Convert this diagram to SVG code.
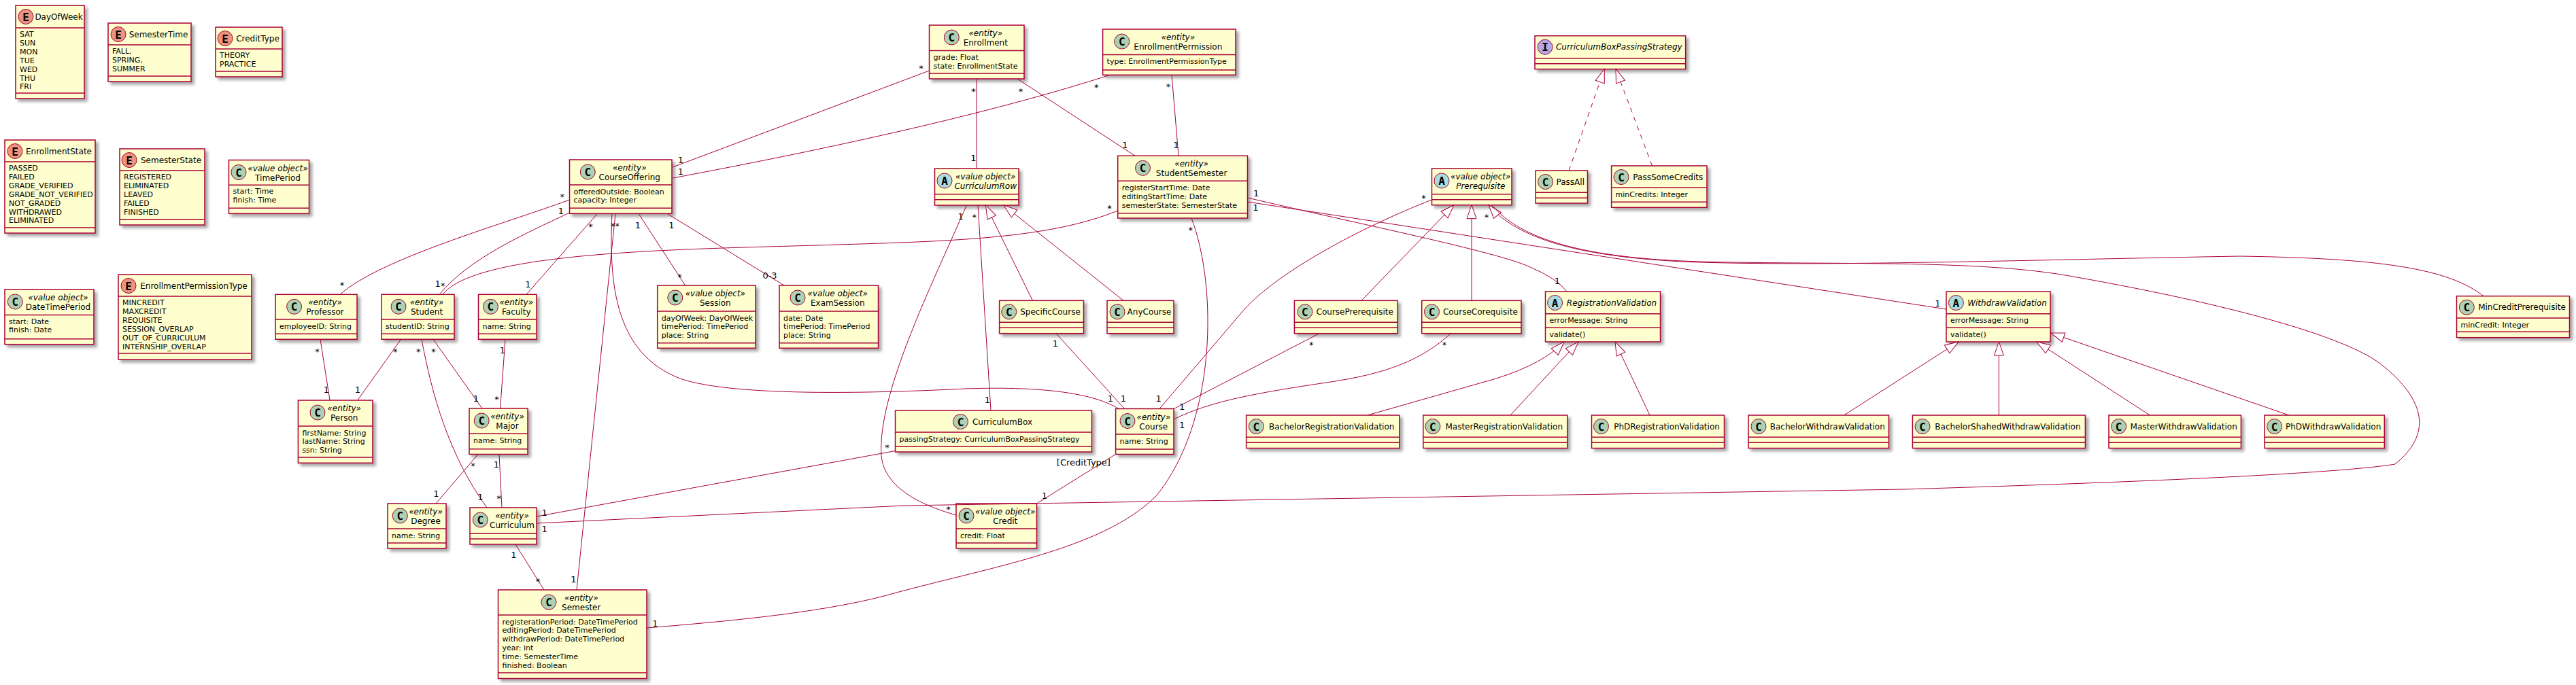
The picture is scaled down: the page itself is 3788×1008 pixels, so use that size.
<svg xmlns="http://www.w3.org/2000/svg" width="3788" height="1008" viewBox="0 0 3788 1008">
<defs>
<style>
.box{fill:#FEFECE;stroke:#A80036;stroke-width:1.5;filter:url(#sh)}
.sep{stroke:#A80036;stroke-width:1.5}
.spot{stroke:#A80036;stroke-width:1}
.sc{fill:#ADD1B2}.sa{fill:#A9DCDF}.si{fill:#B4A7E5}.se{fill:#EB937F}
text{font-family:"DejaVu Sans",sans-serif;fill:#000000}
.lt{font-family:"DejaVu Sans Mono",monospace;font-size:16px;font-weight:bold;text-anchor:middle}
.nm{font-size:12px;text-anchor:middle}
.it{font-style:italic}
.at{font-size:11px}
.ml{font-size:13px;text-anchor:middle}
.ln{fill:none;stroke:#A80036;stroke-width:1}
.g{marker-end:url(#tri)}
.d{stroke-dasharray:7,7}
</style>
<filter id="sh" x="-10%" y="-10%" width="130%" height="150%">
<feGaussianBlur in="SourceAlpha" stdDeviation="2"/>
<feOffset dx="4" dy="4"/>
<feComponentTransfer><feFuncA type="linear" slope="0.35"/></feComponentTransfer>
<feMerge><feMergeNode/><feMergeNode in="SourceGraphic"/></feMerge>
</filter>
<marker id="tri" markerUnits="userSpaceOnUse" markerWidth="24" markerHeight="18" viewBox="-22 -9 24 18" refX="0" refY="0" orient="auto">
<path d="M0,0 L-20,-7 L-20,7 Z" fill="#FFFFFF" stroke="#A80036" stroke-width="1"/>
</marker>
</defs>
<rect x="0" y="0" width="3788" height="1008" fill="#FFFFFF"/>

<g id="DayOfWeek"><rect class="box" x="23" y="8" width="101" height="137"/><line class="sep" x1="23" y1="41" x2="124" y2="41"/><line class="sep" x1="23" y1="137" x2="124" y2="137"/><circle class="spot se" cx="38" cy="24.5" r="11"/><text class="lt" x="38" y="30.5">E</text><text class="nm" x="86.5" y="28.5">DayOfWeek</text><text class="at"><tspan x="29" y="54">SAT</tspan><tspan x="29" y="66.9">SUN</tspan><tspan x="29" y="79.8">MON</tspan><tspan x="29" y="92.7">TUE</tspan><tspan x="29" y="105.6">WED</tspan><tspan x="29" y="118.5">THU</tspan><tspan x="29" y="131.4">FRI</tspan></text></g>

<g id="SemesterTime"><rect class="box" x="159" y="34" width="122" height="86"/><line class="sep" x1="159" y1="66" x2="281" y2="66"/><line class="sep" x1="159" y1="112" x2="281" y2="112"/><circle class="spot se" cx="174" cy="50.5" r="11"/><text class="lt" x="174" y="56.5">E</text><text class="nm" x="233" y="54.5">SemesterTime</text><text class="at"><tspan x="165" y="79">FALL,</tspan><tspan x="165" y="91.9">SPRING,</tspan><tspan x="165" y="104.8">SUMMER</tspan></text></g>

<g id="CreditType"><rect class="box" x="317" y="40" width="98" height="73"/><line class="sep" x1="317" y1="72" x2="415" y2="72"/><line class="sep" x1="317" y1="105" x2="415" y2="105"/><circle class="spot se" cx="331" cy="56.5" r="11"/><text class="lt" x="331" y="62.5">E</text><text class="nm" x="379" y="60.5">CreditType</text><text class="at"><tspan x="323" y="85">THEORY</tspan><tspan x="323" y="97.9">PRACTICE</tspan></text></g>

<g id="EnrollmentState"><rect class="box" x="7" y="206" width="133" height="137"/><line class="sep" x1="7" y1="238" x2="140" y2="238"/><line class="sep" x1="7" y1="335" x2="140" y2="335"/><circle class="spot se" cx="22" cy="222.5" r="11"/><text class="lt" x="22" y="228.5">E</text><text class="nm" x="86.5" y="226.5">EnrollmentState</text><text class="at"><tspan x="13" y="251">PASSED</tspan><tspan x="13" y="263.9">FAILED</tspan><tspan x="13" y="276.8">GRADE_VERIFIED</tspan><tspan x="13" y="289.7">GRADE_NOT_VERIFIED</tspan><tspan x="13" y="302.6">NOT_GRADED</tspan><tspan x="13" y="315.5">WITHDRAWED</tspan><tspan x="13" y="328.4">ELIMINATED</tspan></text></g>

<g id="SemesterState"><rect class="box" x="176" y="219" width="125" height="112"/><line class="sep" x1="176" y1="251" x2="301" y2="251"/><line class="sep" x1="176" y1="323" x2="301" y2="323"/><circle class="spot se" cx="190" cy="235.5" r="11"/><text class="lt" x="190" y="241.5">E</text><text class="nm" x="251.5" y="239.5">SemesterState</text><text class="at"><tspan x="182" y="264">REGISTERED</tspan><tspan x="182" y="276.9">ELIMINATED</tspan><tspan x="182" y="289.8">LEAVED</tspan><tspan x="182" y="302.7">FAILED</tspan><tspan x="182" y="315.6">FINISHED</tspan></text></g>

<g id="TimePeriod"><rect class="box" x="336.5" y="235.5" width="118" height="78.8"/><line class="sep" x1="336.5" y1="272.3" x2="454.5" y2="272.3"/><line class="sep" x1="336.5" y1="306.3" x2="454.5" y2="306.3"/><circle class="spot sc" cx="351" cy="253.5" r="11"/><text class="lt" x="351" y="259.5">C</text><text class="nm it" x="408.5" y="251.5">«value object»</text><text class="nm" x="408.5" y="265.5">TimePeriod</text><text class="at"><tspan x="342.5" y="285.3">start: Time</tspan><tspan x="342.5" y="298.2">finish: Time</tspan></text></g>

<g id="DateTimePeriod"><rect class="box" x="7" y="426" width="131" height="80.7"/><line class="sep" x1="7" y1="463.5" x2="138" y2="463.5"/><line class="sep" x1="7" y1="498.7" x2="138" y2="498.7"/><circle class="spot sc" cx="22.3" cy="444" r="11"/><text class="lt" x="22.3" y="450">C</text><text class="nm it" x="85.5" y="442">«value object»</text><text class="nm" x="85.5" y="456">DateTimePeriod</text><text class="at"><tspan x="13" y="476.5">start: Date</tspan><tspan x="13" y="489.4">finish: Date</tspan></text></g>

<g id="EnrollmentPermissionType"><rect class="box" x="174" y="404" width="196" height="125"/><line class="sep" x1="174" y1="436" x2="370" y2="436"/><line class="sep" x1="174" y1="520" x2="370" y2="520"/><circle class="spot se" cx="189" cy="420.5" r="11"/><text class="lt" x="189" y="426.5">E</text><text class="nm" x="285" y="424.5">EnrollmentPermissionType</text><text class="at"><tspan x="180" y="449">MINCREDIT</tspan><tspan x="180" y="461.9">MAXCREDIT</tspan><tspan x="180" y="474.8">REQUISITE</tspan><tspan x="180" y="487.7">SESSION_OVERLAP</tspan><tspan x="180" y="500.6">OUT_OF_CURRICULUM</tspan><tspan x="180" y="513.5">INTERNSHIP_OVERLAP</tspan></text></g>

<g id="Enrollment"><rect class="box" x="1366.5" y="37" width="139.5" height="79"/><line class="sep" x1="1366.5" y1="74.5" x2="1506" y2="74.5"/><line class="sep" x1="1366.5" y1="108" x2="1506" y2="108"/><circle class="spot sc" cx="1399.3" cy="55" r="11"/><text class="lt" x="1399.3" y="61">C</text><text class="nm it" x="1449.25" y="53">«entity»</text><text class="nm" x="1449.25" y="67">Enrollment</text><text class="at"><tspan x="1372.5" y="88">grade: Float</tspan><tspan x="1372.5" y="100.9">state: EnrollmentState</tspan></text></g>

<g id="EnrollmentPermission"><rect class="box" x="1621.6" y="43" width="195.4" height="67.3"/><line class="sep" x1="1621.6" y1="80.5" x2="1817" y2="80.5"/><line class="sep" x1="1621.6" y1="103" x2="1817" y2="103"/><circle class="spot sc" cx="1649.7" cy="61" r="11"/><text class="lt" x="1649.7" y="67">C</text><text class="nm it" x="1732.3" y="59">«entity»</text><text class="nm" x="1732.3" y="73">EnrollmentPermission</text><text class="at"><tspan x="1627.6" y="94">type: EnrollmentPermissionType</tspan></text></g>

<g id="CourseOffering"><rect class="box" x="837.5" y="235" width="150.5" height="79.3"/><line class="sep" x1="837.5" y1="272" x2="988" y2="272"/><line class="sep" x1="837.5" y1="306.3" x2="988" y2="306.3"/><circle class="spot sc" cx="864.3" cy="253" r="11"/><text class="lt" x="864.3" y="259">C</text><text class="nm it" x="925.75" y="251">«entity»</text><text class="nm" x="925.75" y="265">CourseOffering</text><text class="at"><tspan x="843.5" y="285.5">offeredOutside: Boolean</tspan><tspan x="843.5" y="298.4">capacity: Integer</tspan></text></g>

<g id="CurriculumRow"><rect class="box" x="1374.5" y="248" width="123.5" height="54"/><line class="sep" x1="1374.5" y1="285.7" x2="1498" y2="285.7"/><line class="sep" x1="1374.5" y1="293.7" x2="1498" y2="293.7"/><circle class="spot sa" cx="1389" cy="266" r="11"/><text class="lt" x="1389" y="272">A</text><text class="nm it" x="1449.25" y="264">«value object»</text><text class="nm it" x="1449.25" y="278">CurriculumRow</text></g>

<g id="StudentSemester"><rect class="box" x="1643.7" y="229.3" width="190.8" height="91.7"/><line class="sep" x1="1643.7" y1="266.3" x2="1834.5" y2="266.3"/><line class="sep" x1="1643.7" y1="313.7" x2="1834.5" y2="313.7"/><circle class="spot sc" cx="1680.5" cy="247.3" r="11"/><text class="lt" x="1680.5" y="253.3">C</text><text class="nm it" x="1752.1" y="245.3">«entity»</text><text class="nm" x="1752.1" y="259.3">StudentSemester</text><text class="at"><tspan x="1649.7" y="279.8">registerStartTime: Date</tspan><tspan x="1649.7" y="292.7">editingStartTime: Date</tspan><tspan x="1649.7" y="305.6">semesterState: SemesterState</tspan></text></g>

<g id="Session"><rect class="box" x="966.7" y="420" width="144.3" height="92.3"/><line class="sep" x1="966.7" y1="458" x2="1111" y2="458"/><line class="sep" x1="966.7" y1="504.7" x2="1111" y2="504.7"/><circle class="spot sc" cx="992.8" cy="438" r="11"/><text class="lt" x="992.8" y="444">C</text><text class="nm it" x="1051.85" y="436">«value object»</text><text class="nm" x="1051.85" y="450">Session</text><text class="at"><tspan x="972.7" y="471.5">dayOfWeek: DayOfWeek</tspan><tspan x="972.7" y="484.4">timePeriod: TimePeriod</tspan><tspan x="972.7" y="497.3">place: String</tspan></text></g>

<g id="ExamSession"><rect class="box" x="1146" y="420" width="145.5" height="92.3"/><line class="sep" x1="1146" y1="458" x2="1291.5" y2="458"/><line class="sep" x1="1146" y1="504.7" x2="1291.5" y2="504.7"/><circle class="spot sc" cx="1173" cy="438" r="11"/><text class="lt" x="1173" y="444">C</text><text class="nm it" x="1231.75" y="436">«value object»</text><text class="nm" x="1231.75" y="450">ExamSession</text><text class="at"><tspan x="1152" y="471.5">date: Date</tspan><tspan x="1152" y="484.4">timePeriod: TimePeriod</tspan><tspan x="1152" y="497.3">place: String</tspan></text></g>

<g id="SpecificCourse"><rect class="box" x="1469.6" y="442.3" width="123.9" height="48.4"/><line class="sep" x1="1469.6" y1="474.3" x2="1593.5" y2="474.3"/><line class="sep" x1="1469.6" y1="482.3" x2="1593.5" y2="482.3"/><circle class="spot sc" cx="1483.7" cy="458.8" r="11"/><text class="lt" x="1483.7" y="464.8">C</text><text class="nm" x="1544.5" y="462.8">SpecificCourse</text></g>

<g id="AnyCourse"><rect class="box" x="1628" y="442.3" width="98" height="48.4"/><line class="sep" x1="1628" y1="474.3" x2="1726" y2="474.3"/><line class="sep" x1="1628" y1="482.3" x2="1726" y2="482.3"/><circle class="spot sc" cx="1643" cy="458.8" r="11"/><text class="lt" x="1643" y="464.8">C</text><text class="nm" x="1690" y="462.8">AnyCourse</text></g>

<g id="Professor"><rect class="box" x="405" y="433.3" width="120" height="66"/><line class="sep" x1="405" y1="470" x2="525" y2="470"/><line class="sep" x1="405" y1="491.3" x2="525" y2="491.3"/><circle class="spot sc" cx="432.6" cy="451.3" r="11"/><text class="lt" x="432.6" y="457.3">C</text><text class="nm it" x="478" y="449.3">«entity»</text><text class="nm" x="478" y="463.3">Professor</text><text class="at" x="411" y="483.5">employeeID: String</text></g>

<g id="Student"><rect class="box" x="561" y="433.3" width="107" height="66"/><line class="sep" x1="561" y1="470" x2="668" y2="470"/><line class="sep" x1="561" y1="491.3" x2="668" y2="491.3"/><circle class="spot sc" cx="586" cy="451.3" r="11"/><text class="lt" x="586" y="457.3">C</text><text class="nm it" x="627.5" y="449.3">«entity»</text><text class="nm" x="627.5" y="463.3">Student</text><text class="at" x="567" y="483.5">studentID: String</text></g>

<g id="Faculty"><rect class="box" x="703.5" y="433.3" width="85.5" height="66"/><line class="sep" x1="703.5" y1="470" x2="789" y2="470"/><line class="sep" x1="703.5" y1="491.3" x2="789" y2="491.3"/><circle class="spot sc" cx="721.4" cy="451.3" r="11"/><text class="lt" x="721.4" y="457.3">C</text><text class="nm it" x="759.25" y="449.3">«entity»</text><text class="nm" x="759.25" y="463.3">Faculty</text><text class="at" x="709.5" y="483.5">name: String</text></g>

<g id="Person"><rect class="box" x="438.4" y="589" width="109.6" height="92.3"/><line class="sep" x1="438.4" y1="627" x2="548" y2="627"/><line class="sep" x1="438.4" y1="673" x2="548" y2="673"/><circle class="spot sc" cx="467" cy="607" r="11"/><text class="lt" x="467" y="613">C</text><text class="nm it" x="506.2" y="605">«entity»</text><text class="nm" x="506.2" y="619">Person</text><text class="at"><tspan x="444.4" y="640.5">firstName: String</tspan><tspan x="444.4" y="653.4">lastName: String</tspan><tspan x="444.4" y="666.3">ssn: String</tspan></text></g>

<g id="Major"><rect class="box" x="690" y="601" width="86" height="67.5"/><line class="sep" x1="690" y1="638.2" x2="776" y2="638.2"/><line class="sep" x1="690" y1="660.8" x2="776" y2="660.8"/><circle class="spot sc" cx="708.2" cy="619" r="11"/><text class="lt" x="708.2" y="625">C</text><text class="nm it" x="746" y="617">«entity»</text><text class="nm" x="746" y="631">Major</text><text class="at" x="696" y="651.7">name: String</text></g>

<g id="Degree"><rect class="box" x="570" y="741" width="86" height="66"/><line class="sep" x1="570" y1="778" x2="656" y2="778"/><line class="sep" x1="570" y1="799" x2="656" y2="799"/><circle class="spot sc" cx="588.3" cy="759" r="11"/><text class="lt" x="588.3" y="765">C</text><text class="nm it" x="626" y="757">«entity»</text><text class="nm" x="626" y="771">Degree</text><text class="at" x="576" y="791.5">name: String</text></g>

<g id="Curriculum"><rect class="box" x="691" y="747" width="98" height="54"/><line class="sep" x1="691" y1="785" x2="789" y2="785"/><line class="sep" x1="691" y1="793" x2="789" y2="793"/><circle class="spot sc" cx="706.3" cy="765" r="11"/><text class="lt" x="706.3" y="771">C</text><text class="nm it" x="753" y="763">«entity»</text><text class="nm" x="753" y="777">Curriculum</text></g>

<g id="Semester"><rect class="box" x="732.5" y="868" width="218.5" height="130.5"/><line class="sep" x1="732.5" y1="905" x2="951" y2="905"/><line class="sep" x1="732.5" y1="990" x2="951" y2="990"/><circle class="spot sc" cx="807" cy="886" r="11"/><text class="lt" x="807" y="892">C</text><text class="nm it" x="854.75" y="884">«entity»</text><text class="nm" x="854.75" y="898">Semester</text><text class="at"><tspan x="738.5" y="918.5">registerationPeriod: DateTimePeriod</tspan><tspan x="738.5" y="931.4">editingPeriod: DateTimePeriod</tspan><tspan x="738.5" y="944.3">withdrawPeriod: DateTimePeriod</tspan><tspan x="738.5" y="957.2">year: int</tspan><tspan x="738.5" y="970.1">time: SemesterTime</tspan><tspan x="738.5" y="983">finished: Boolean</tspan></text></g>

<g id="CurriculumBox"><rect class="box" x="1316.5" y="604" width="289" height="61"/><line class="sep" x1="1316.5" y1="636" x2="1605.5" y2="636"/><line class="sep" x1="1316.5" y1="657" x2="1605.5" y2="657"/><circle class="spot sc" cx="1412.5" cy="620.5" r="11"/><text class="lt" x="1412.5" y="626.5">C</text><text class="nm" x="1474" y="624.5">CurriculumBox</text><text class="at" x="1322.5" y="649.5">passingStrategy: CurriculumBoxPassingStrategy</text></g>

<g id="Course"><rect class="box" x="1640.6" y="601.5" width="85.4" height="67"/><line class="sep" x1="1640.6" y1="639" x2="1726" y2="639"/><line class="sep" x1="1640.6" y1="661" x2="1726" y2="661"/><circle class="spot sc" cx="1658" cy="619.5" r="11"/><text class="lt" x="1658" y="625.5">C</text><text class="nm it" x="1696.3" y="617.5">«entity»</text><text class="nm" x="1696.3" y="631.5">Course</text><text class="at" x="1646.6" y="652.5">name: String</text></g>

<g id="Credit"><rect class="box" x="1406" y="741" width="118.5" height="66"/><line class="sep" x1="1406" y1="778" x2="1524.5" y2="778"/><line class="sep" x1="1406" y1="799" x2="1524.5" y2="799"/><circle class="spot sc" cx="1421" cy="759" r="11"/><text class="lt" x="1421" y="765">C</text><text class="nm it" x="1478.25" y="757">«value object»</text><text class="nm" x="1478.25" y="771">Credit</text><text class="at" x="1412" y="791.5">credit: Float</text></g>

<g id="CurriculumBoxPassingStrategy"><rect class="box" x="2257" y="52.7" width="221.6" height="49"/><line class="sep" x1="2257" y1="85.7" x2="2478.6" y2="85.7"/><line class="sep" x1="2257" y1="93.7" x2="2478.6" y2="93.7"/><circle class="spot si" cx="2272" cy="69.2" r="11"/><text class="lt" x="2272" y="75.2">I</text><text class="nm it" x="2380.8" y="73.2">CurriculumBoxPassingStrategy</text></g>

<g id="PassAll"><rect class="box" x="2258" y="251" width="76.5" height="48"/><line class="sep" x1="2258" y1="283.3" x2="2334.5" y2="283.3"/><line class="sep" x1="2258" y1="291.3" x2="2334.5" y2="291.3"/><circle class="spot sc" cx="2272.6" cy="267.5" r="11"/><text class="lt" x="2272.6" y="273.5">C</text><text class="nm" x="2309.25" y="271.5">PassAll</text></g>

<g id="PassSomeCredits"><rect class="box" x="2369.6" y="244" width="140.4" height="61.3"/><line class="sep" x1="2369.6" y1="276.3" x2="2510" y2="276.3"/><line class="sep" x1="2369.6" y1="297.3" x2="2510" y2="297.3"/><circle class="spot sc" cx="2384" cy="260.5" r="11"/><text class="lt" x="2384" y="266.5">C</text><text class="nm" x="2452.8" y="264.5">PassSomeCredits</text><text class="at" x="2375.6" y="289.8">minCredits: Integer</text></g>

<g id="Prerequisite"><rect class="box" x="2105.5" y="248" width="117.5" height="53.7"/><line class="sep" x1="2105.5" y1="285.7" x2="2223" y2="285.7"/><line class="sep" x1="2105.5" y1="293.7" x2="2223" y2="293.7"/><circle class="spot sa" cx="2120" cy="266" r="11"/><text class="lt" x="2120" y="272">A</text><text class="nm it" x="2177.25" y="264">«value object»</text><text class="nm it" x="2177.25" y="278">Prerequisite</text></g>

<g id="CoursePrerequisite"><rect class="box" x="1903.4" y="442.3" width="151.6" height="48.4"/><line class="sep" x1="1903.4" y1="474.3" x2="2055" y2="474.3"/><line class="sep" x1="1903.4" y1="482.3" x2="2055" y2="482.3"/><circle class="spot sc" cx="1918.9" cy="458.8" r="11"/><text class="lt" x="1918.9" y="464.8">C</text><text class="nm" x="1992.2" y="462.8">CoursePrerequisite</text></g>

<g id="CourseCorequisite"><rect class="box" x="2090.7" y="442.3" width="146.3" height="48.4"/><line class="sep" x1="2090.7" y1="474.3" x2="2237" y2="474.3"/><line class="sep" x1="2090.7" y1="482.3" x2="2237" y2="482.3"/><circle class="spot sc" cx="2105.5" cy="458.8" r="11"/><text class="lt" x="2105.5" y="464.8">C</text><text class="nm" x="2176.85" y="462.8">CourseCorequisite</text></g>

<g id="RegistrationValidation"><rect class="box" x="2272.5" y="429" width="169" height="74"/><line class="sep" x1="2272.5" y1="461.7" x2="2441.5" y2="461.7"/><line class="sep" x1="2272.5" y1="482.3" x2="2441.5" y2="482.3"/><circle class="spot sa" cx="2286.6" cy="445.5" r="11"/><text class="lt" x="2286.6" y="451.5">A</text><text class="nm it" x="2370" y="449.5">RegistrationValidation</text><text class="at" x="2278.5" y="475.2">errorMessage: String</text><text class="at" x="2278.5" y="495.8">validate()</text></g>

<g id="WithdrawValidation"><rect class="box" x="2862" y="429" width="153" height="74"/><line class="sep" x1="2862" y1="461.7" x2="3015" y2="461.7"/><line class="sep" x1="2862" y1="482.3" x2="3015" y2="482.3"/><circle class="spot sa" cx="2876.4" cy="445.5" r="11"/><text class="lt" x="2876.4" y="451.5">A</text><text class="nm it" x="2951.5" y="449.5">WithdrawValidation</text><text class="at" x="2868" y="475.2">errorMessage: String</text><text class="at" x="2868" y="495.8">validate()</text></g>

<g id="MinCreditPrerequisite"><rect class="box" x="3612.5" y="435.7" width="166" height="61"/><line class="sep" x1="3612.5" y1="468" x2="3778.5" y2="468"/><line class="sep" x1="3612.5" y1="488.3" x2="3778.5" y2="488.3"/><circle class="spot sc" cx="3627.3" cy="452.2" r="11"/><text class="lt" x="3627.3" y="458.2">C</text><text class="nm" x="3708.5" y="456.2">MinCreditPrerequisite</text><text class="at" x="3618.5" y="481.5">minCredit: Integer</text></g>

<g id="BachelorRegistrationValidation"><rect class="box" x="1832.6" y="611" width="225.2" height="48.5"/><line class="sep" x1="1832.6" y1="643.3" x2="2057.8" y2="643.3"/><line class="sep" x1="1832.6" y1="651.3" x2="2057.8" y2="651.3"/><circle class="spot sc" cx="1847.3" cy="627.5" r="11"/><text class="lt" x="1847.3" y="633.5">C</text><text class="nm" x="1958.2" y="631.5">BachelorRegistrationValidation</text></g>

<g id="MasterRegistrationValidation"><rect class="box" x="2092.8" y="611" width="211.9" height="48.5"/><line class="sep" x1="2092.8" y1="643.3" x2="2304.7" y2="643.3"/><line class="sep" x1="2092.8" y1="651.3" x2="2304.7" y2="651.3"/><circle class="spot sc" cx="2106.9" cy="627.5" r="11"/><text class="lt" x="2106.9" y="633.5">C</text><text class="nm" x="2211.75" y="631.5">MasterRegistrationValidation</text></g>

<g id="PhDRegistrationValidation"><rect class="box" x="2340.5" y="611" width="195" height="48.5"/><line class="sep" x1="2340.5" y1="643.3" x2="2535.5" y2="643.3"/><line class="sep" x1="2340.5" y1="651.3" x2="2535.5" y2="651.3"/><circle class="spot sc" cx="2354.5" cy="627.5" r="11"/><text class="lt" x="2354.5" y="633.5">C</text><text class="nm" x="2451" y="631.5">PhDRegistrationValidation</text></g>

<g id="BachelorWithdrawValidation"><rect class="box" x="2571" y="611" width="206.5" height="48.5"/><line class="sep" x1="2571" y1="643.3" x2="2777.5" y2="643.3"/><line class="sep" x1="2571" y1="651.3" x2="2777.5" y2="651.3"/><circle class="spot sc" cx="2586" cy="627.5" r="11"/><text class="lt" x="2586" y="633.5">C</text><text class="nm" x="2687.25" y="631.5">BachelorWithdrawValidation</text></g>

<g id="BachelorShahedWithdrawValidation"><rect class="box" x="2812.4" y="611" width="254" height="48.5"/><line class="sep" x1="2812.4" y1="643.3" x2="3066.4" y2="643.3"/><line class="sep" x1="2812.4" y1="651.3" x2="3066.4" y2="651.3"/><circle class="spot sc" cx="2827" cy="627.5" r="11"/><text class="lt" x="2827" y="633.5">C</text><text class="nm" x="2952.4" y="631.5">BachelorShahedWithdrawValidation</text></g>

<g id="MasterWithdrawValidation"><rect class="box" x="3101" y="611" width="194.4" height="48.5"/><line class="sep" x1="3101" y1="643.3" x2="3295.4" y2="643.3"/><line class="sep" x1="3101" y1="651.3" x2="3295.4" y2="651.3"/><circle class="spot sc" cx="3115.6" cy="627.5" r="11"/><text class="lt" x="3115.6" y="633.5">C</text><text class="nm" x="3211.2" y="631.5">MasterWithdrawValidation</text></g>

<g id="PhDWithdrawValidation"><rect class="box" x="3330" y="611" width="176.3" height="48.5"/><line class="sep" x1="3330" y1="643.3" x2="3506.3" y2="643.3"/><line class="sep" x1="3330" y1="651.3" x2="3506.3" y2="651.3"/><circle class="spot sc" cx="3344.6" cy="627.5" r="11"/><text class="lt" x="3344.6" y="633.5">C</text><text class="nm" x="3431.15" y="631.5">PhDWithdrawValidation</text></g>

<g id="connectors">
<g class="ln">
<path d="M1366.5,104 L989,246"/>
<path d="M1630,111 Q1400,185 989.5,262"/>
<path d="M1436,116 L1436,248"/>
<path d="M1496,116 L1669,229.3"/>
<path d="M1723,110.3 L1733,229.3"/>
<path d="M837.5,294 C740,330 560,380 500,433.3"/>
<path d="M837.5,313 C770,345 690,380 646,433.3"/>
<path d="M1643.7,310 C1540,352 1400,355 1200,361 C1000,367 700,370 651,433.3"/>
<path d="M878.5,314.3 L774,433.3"/>
<path d="M905,314.3 L848,868"/>
<path d="M900,314.3 C895,420 905,520 1000,557 C1080,585 1300,578 1420,572 C1540,568 1610,580 1645,601.5"/>
<path d="M939,314.3 L1007.6,420"/>
<path d="M981,314.3 L1153,420"/>
<path d="M1438,302 L1457,604"/>
<path d="M1421.4,302 C1370,420 1290,580 1296,670 C1300,720 1360,745 1406,758"/>
<path class="g" d="M1518.5,442.3 L1449.5,302"/>
<path class="g" d="M1652,442.3 L1476,302"/>
<path d="M1553,490.7 L1653.6,601.5"/>
<path d="M1752,321 C1790,420 1790,620 1700,730 C1620,810 1450,835 1300,877 C1200,903 1060,915 951,924"/>
<path d="M1834.5,291 C2000,330 2200,370 2250,393 Q2290,410 2304,429"/>
<path d="M1834.5,297 L2862,455"/>
<path d="M2105.5,294 C2000,335 1880,400 1830,455 L1705,601.5"/>
<path class="g" d="M2002,442.3 L2138,301.7"/>
<path class="g" d="M2164,442.3 L2164,301.7"/>
<path class="g" d="M3652,435.7 C3600,395 3500,380 3294,377 C3000,382 2700,392 2500,386 C2320,380 2230,350 2189,301.7"/>
<path d="M2194,301.7 C2235,352 2330,380 2500,385 C2700,390 2900,382 3037,405 C3250,442 3440,490 3500,535 C3570,590 3575,640 3522,683 C3450,695 3200,708 2800,720 L1330,744 L789,770"/>
<path d="M789,760 L1316.5,663.5"/>
<path d="M589.6,499.3 L525.8,589"/>
<path d="M471,499.3 L485,589"/>
<path d="M620,499.3 C635,580 660,670 716,747"/>
<path d="M637,499.3 L709,601"/>
<path d="M743,499.3 L735.6,601"/>
<path d="M703,668.5 L641,741"/>
<path d="M734,668.5 L738,747"/>
<path d="M758,801 L800,868"/>
<path d="M1640.6,668.5 L1524.5,741"/>
<path d="M1940,490.7 L1726,601.7"/>
<path d="M2133.5,490.7 C2090,530 2040,550 1950,563 C1850,578 1780,590 1726,617"/>
<path class="g" d="M2010.8,611 L2200,557 Q2270,535 2300,503"/>
<path class="g" d="M2221,611 L2321,503"/>
<path class="g" d="M2426,611 L2375,503"/>
<path class="g" d="M2711.6,611 L2880,503"/>
<path class="g" d="M2939.4,611 L2939.4,503"/>
<path class="g" d="M3161.4,611 L2995,503"/>
<path class="g" d="M3366,611 L3015.7,490"/>
<path class="g d" d="M2307,251 L2359.3,101.7"/>
<path class="g d" d="M2429.5,244 L2376,101.7"/>
</g>
<g id="labels">
<text class="ml" x="1354.4" y="105.2">*</text>
<text class="ml" x="1000.9" y="240.4">1</text>
<text class="ml" x="1000.9" y="257">1</text>
<text class="ml" x="1612.2" y="132.5">*</text>
<text class="ml" x="1431.4" y="138.8">*</text>
<text class="ml" x="1431.4" y="237">1</text>
<text class="ml" x="1501" y="139.2">*</text>
<text class="ml" x="1654.4" y="218">1</text>
<text class="ml" x="1718" y="131.8">*</text>
<text class="ml" x="1729.4" y="218">1</text>
<text class="ml" x="826.8" y="293.8">*</text>
<text class="ml" x="825" y="314.7">1</text>
<text class="ml" x="868.6" y="337.5">*</text>
<text class="ml" x="904.4" y="337.3">**</text>
<text class="ml" x="937.8" y="335.8">1</text>
<text class="ml" x="987.5" y="335.8">1</text>
<text class="ml" x="999.5" y="411.5">*</text>
<text class="ml" x="1132" y="409.7">0-3</text>
<text class="ml" x="1412.7" y="323">1</text>
<text class="ml" x="1432.8" y="323.5">*</text>
<text class="ml" x="1631.6" y="310.8">*</text>
<text class="ml" x="1750.8" y="342.5">*</text>
<text class="ml" x="1847.2" y="289.3">1</text>
<text class="ml" x="1846.3" y="310.3">1</text>
<text class="ml" x="1552" y="510.4">1</text>
<text class="ml" x="503" y="424.2">*</text>
<text class="ml" x="643.7" y="422">1</text>
<text class="ml" x="651.3" y="424.8">*</text>
<text class="ml" x="776.3" y="423">1</text>
<text class="ml" x="466.5" y="521.5">*</text>
<text class="ml" x="581.2" y="521.5">*</text>
<text class="ml" x="615.2" y="521.5">*</text>
<text class="ml" x="637.5" y="521.5">*</text>
<text class="ml" x="738.8" y="519.7">1</text>
<text class="ml" x="480" y="578.3">1</text>
<text class="ml" x="525.8" y="578.3">1</text>
<text class="ml" x="700" y="590.7">1</text>
<text class="ml" x="730.5" y="592">*</text>
<text class="ml" x="695.5" y="689.5">*</text>
<text class="ml" x="730" y="688.4">1</text>
<text class="ml" x="641.3" y="730.5">1</text>
<text class="ml" x="706.3" y="735.5">1</text>
<text class="ml" x="733.7" y="738.3">*</text>
<text class="ml" x="800.7" y="759.1">1</text>
<text class="ml" x="800.7" y="782.7">1</text>
<text class="ml" x="755.4" y="821.4">1</text>
<text class="ml" x="791" y="859.5">*</text>
<text class="ml" x="843.4" y="857.4">1</text>
<text class="ml" x="963.3" y="922.4">1</text>
<text class="ml" x="1304.5" y="663.4">*</text>
<text class="ml" x="1451.8" y="593.1">1</text>
<text class="ml" x="1633" y="590.7">1</text>
<text class="ml" x="1652" y="590.7">1</text>
<text class="ml" x="1703.7" y="590.7">1</text>
<text class="ml" x="1738.2" y="603.2">1</text>
<text class="ml" x="1738.2" y="629.5">1</text>
<text class="ml" x="1928.2" y="511.7">*</text>
<text class="ml" x="2124" y="511.7">*</text>
<text class="ml" x="1593.4" y="685.1">[CreditType]</text>
<text class="ml" x="1536" y="733.9">1</text>
<text class="ml" x="1394.4" y="753.5">*</text>
<text class="ml" x="2093.4" y="295.8">*</text>
<text class="ml" x="2185.9" y="324.2">*</text>
<text class="ml" x="2289.8" y="418">1</text>
<text class="ml" x="2849.4" y="451.4">1</text>
</g>
</g>
</svg>
